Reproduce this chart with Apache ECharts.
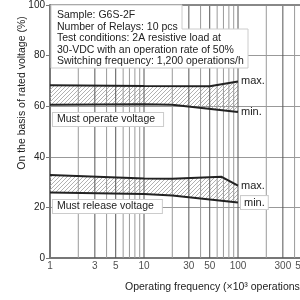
<!DOCTYPE html>
<html><head><meta charset="utf-8">
<script src="https://cdn.jsdelivr.net/npm/echarts@6/dist/echarts.min.js"></script>
<style>html,body{margin:0;padding:0;background:#fff}#c{width:300px;height:300px}</style>
</head><body><div id="c"></div>
<script>
// ---- data ----
const xTickLabels = [1, 3, 5, 10, 30, 50, 100, 300, 500];
const xLightGrid = [2, 4, 6, 7, 8, 9, 20, 40, 60, 70, 80, 90, 200, 400, 600, 700, 800, 900];
const xDarkGrid = [3, 5, 10, 30, 50, 100, 300, 500];
const yTicks = [0, 20, 40, 60, 80, 100];

const opMaxFreq = [1, 10, 50, 100];
const opMax     = [68.3, 68.0, 67.9, 69.8];
const opMinFreq = [1, 10, 20, 100];
const opMin     = [60.6, 60.8, 60.6, 57.7];
const relMaxFreq = [1, 10, 20, 67, 100];
const relMax     = [32.8, 31.4, 31.3, 32.1, 28.6];
const relMinFreq = [1, 10, 20, 100];
const relMin     = [25.9, 25.3, 24.7, 21.9];

const infoLines = ['Sample: G6S-2F', 'Number of Relays: 10 pcs', 'Test conditions: 2A resistive load at',
  '30-VDC with an operation rate of 50%', 'Switching frequency: 1,200 operations/h'];
const yName = 'On the basis of rated voltage (%)';
const xName = 'Operating frequency (\u00d710\u00b3 operations/h)';

// ---- helpers ----
const FONT = '"Liberation Sans", Arial, sans-serif';
const pair = (xs, ys) => xs.map((x, i) => [x, ys[i]]);
const hatch = (() => {
  const c = document.createElement('canvas'); c.width = 4; c.height = 4;
  const g = c.getContext('2d');
  g.strokeStyle = '#a8a8a8'; g.lineWidth = 0.9;
  g.beginPath();
  g.moveTo(0, 4); g.lineTo(4, 0);
  g.moveTo(-1, 1); g.lineTo(1, -1);
  g.moveTo(3, 5); g.lineTo(5, 3);
  g.stroke();
  return c;
})();
const bands = [
  { max: pair(opMaxFreq, opMax), min: pair(opMinFreq, opMin) },
  { max: pair(relMaxFreq, relMax), min: pair(relMinFreq, relMin) }
];
function lineSeries(data, label, boxed) {
  return {
    type: 'line', data, symbol: 'none', z: 6,
    lineStyle: { color: '#222', width: 2 }, itemStyle: { color: '#222' },
    endLabel: Object.assign({ show: true, formatter: label, color: '#222', fontSize: 11, fontFamily: FONT, distance: 3 },
      boxed ? { backgroundColor: '#fff', borderColor: '#ccc', borderWidth: 1, padding: [1, 3] } : {})
  };
}
// one simple two-point line series per vertical grid line
function gridLine(v, color) {
  return { type: 'line', data: [[v, 0], [v, 100]], symbol: 'none', z: 4,
           lineStyle: { color, width: 1 }, itemStyle: { color } };
}
const gridLines = xLightGrid.map(v => gridLine(v, '#9a9a9a')).concat(xDarkGrid.map(v => gridLine(v, '#555')));

const chart = echarts.init(document.getElementById('c'), null, { renderer: 'canvas' });
chart.setOption({
  animation: false,
  grid: { left: 50, top: 5, width: 282, height: 253, outerBoundsMode: 'none', containLabel: false, show: false },
  xAxis: {
    type: 'log', logBase: 10, min: 1, max: 1000,
    axisLine: { lineStyle: { color: '#777', width: 2 } },
    axisTick: { show: false },
    splitLine: { show: false },
    axisLabel: { show: false }
  },
  yAxis: {
    type: 'value', min: 0, max: 100, interval: 20,
    axisLine: { show: true, lineStyle: { color: '#777', width: 2 } },
    axisTick: { show: true, length: 4, lineStyle: { color: '#777' } },
    splitLine: { show: true, lineStyle: { color: '#999', width: 1 } },
    axisLabel: { color: '#222', fontSize: 10, margin: 5, fontFamily: FONT }
  },
  series: gridLines.concat([
    { type: 'line', data: [[1, 100], [1000, 100]], symbol: 'none', z: 4, lineStyle: { color: '#888', width: 2 } },
    {
      type: 'custom', z: 3,
      data: [[1, 50], [1, 30]],
      renderItem: (params, api) => {
        const b = bands[params.dataIndex];
        const pts = b.max.map(p => api.coord(p)).concat(b.min.slice().reverse().map(p => api.coord(p)));
        return { type: 'polygon', shape: { points: pts }, style: { fill: { image: hatch, repeat: 'repeat' }, stroke: null } };
      }
    },
    lineSeries(bands[0].max, 'max.'),
    lineSeries(bands[0].min, 'min.'),
    lineSeries(bands[1].max, 'max.'),
    lineSeries(bands[1].min, 'min.', true),
    {
      type: 'scatter', symbolSize: 0, silent: true, clip: false,
      data: xTickLabels.map(v => [v, 0]),
      label: { show: true, position: 'bottom', distance: 3, color: '#222', fontSize: 10, fontFamily: FONT, formatter: p => String(p.value[0]) }
    }
  ]),
  graphic: [
    {
      type: 'polygon', z: 50,
      shape: { points: [[51, 5], [182, 5], [182, 29], [248, 29], [248, 68], [51, 68]] },
      style: { fill: '#fff', stroke: '#ccc', lineWidth: 1 }
    },
    {
      type: 'text', z: 51, left: 57, top: 9.5,
      style: { text: infoLines.join('\n'), font: '10.5px ' + FONT, fill: '#222', lineHeight: 11.5 }
    },
    {
      type: 'text', z: 51, left: 52, top: 112,
      style: { text: 'Must operate voltage', font: '10.5px ' + FONT, fill: '#222', backgroundColor: '#fff', borderColor: '#ccc', borderWidth: 1, padding: [1, 8, 1, 4] }
    },
    {
      type: 'text', z: 51, left: 52, top: 199,
      style: { text: 'Must release voltage', font: '10.5px ' + FONT, fill: '#222', backgroundColor: '#fff', borderColor: '#ccc', borderWidth: 1, padding: [1, 8, 1, 4] }
    },
    {
      type: 'text', z: 51, x: 22, y: 93, rotation: Math.PI / 2,
      style: { text: yName, font: '10.5px ' + FONT, fill: '#222', align: 'center', verticalAlign: 'middle' }
    },
    {
      type: 'text', z: 51, x: 125, y: 287,
      style: { text: xName, font: '10.5px ' + FONT, fill: '#222', align: 'left', verticalAlign: 'middle' }
    }
  ]
});
</script></body></html>
